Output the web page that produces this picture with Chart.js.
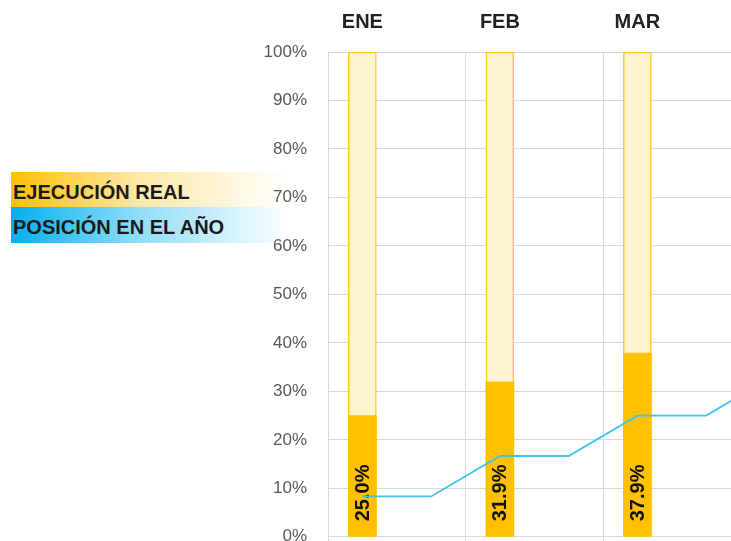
<!DOCTYPE html>
<html>
<head>
<meta charset="utf-8">
<script src="https://cdn.jsdelivr.net/npm/chart.js@4/dist/chart.umd.min.js"></script>
<style>
  html, body { margin: 0; padding: 0; background: #fff; overflow: hidden; width: 731px; height: 541px; }
  #wrap { position: absolute; left: 0; top: 0; width: 731px; height: 541px; overflow: hidden; }
  .band { position: absolute; left: 11px; width: 280px; font-family: "Liberation Sans", Arial, sans-serif; font-weight: bold; font-size: 20px; color: #1a1a1a; box-sizing: border-box; padding-left: 2px; white-space: nowrap; }
  #b1 { top: 172px; height: 35px; line-height: 35px; background: linear-gradient(to right, #FFC000 0%, #FFE7A6 45%, #FFFFFF 100%); }
  #b2 { top: 207px; height: 36px; line-height: 36px; background: linear-gradient(to right, #00B0F0 0%, #8FDDF8 45%, #FFFFFF 100%); }
  #b1 span { position: relative; top: 3px; }
  #b2 span { position: relative; top: 2px; }
  canvas { position: absolute; left: 0; top: 0; }
</style>
</head>
<body>
<div id="wrap">
  <div class="band" id="b1"><span>EJECUCIÓN REAL</span></div>
  <div class="band" id="b2"><span>POSICIÓN EN EL AÑO</span></div>
  <canvas id="c" width="900" height="568"></canvas>
</div>
<script>
// ---- data ----
const months = ['ENE', 'FEB', 'MAR', 'ABR'];
const realExec = [25.0, 31.9, 37.9, null];       // EJECUCIÓN REAL (%)
const fullBar = [100, 100, 100, null];            // 100% background bar
const yearPosition = [8.33, 8.33, 16.67, 16.67, 25.0, 25.0, 33.33, null]; // POSICIÓN EN EL AÑO, half-month slots
const yTicks = [0, 10, 20, 30, 40, 50, 60, 70, 80, 90, 100];

// each month occupies two half-slots; the bar sits in the first one
const slotLabels = months.flatMap(m => [m, '']);
const realSlots = realExec.flatMap(v => [v, null]);
const fullSlots = fullBar.flatMap(v => [v, null]);

const gridCol = '#D9D9D9';
const boundaryColor = ctx => (ctx.index % 2 === 0 ? gridCol : 'rgba(0,0,0,0)');

const labelPlugin = {
  id: 'barLabels',
  afterDatasetDraw(chart, args) {
    if (args.index !== 1) return;
    const c = chart.ctx;
    args.meta.data.forEach((bar, i) => {
      const v = realSlots[i];
      if (v == null) return;
      c.save();
      c.translate(bar.x, bar.base - 15);
      c.rotate(-Math.PI / 2);
      c.font = 'bold 20px "Liberation Sans", Arial, sans-serif';
      c.fillStyle = '#111';
      c.textAlign = 'left';
      c.textBaseline = 'middle';
      c.fillText(v.toFixed(1) + '%', 0, 1);
      c.restore();
    });
  }
};

new Chart(document.getElementById('c'), {
  type: 'bar',
  data: {
    labels: slotLabels,
    datasets: [
      {
        type: 'line',
        label: 'POSICIÓN EN EL AÑO',
        data: yearPosition,
        borderColor: '#3EC3F2',
        borderWidth: 1.8,
        pointRadius: 0,
        tension: 0,
        fill: false,
        xAxisID: 'x',
        order: 0
      },
      {
        label: 'EJECUCIÓN REAL',
        data: realSlots,
        backgroundColor: '#FFC000',
        borderWidth: 0,
        barThickness: 28,
        grouped: false,
        xAxisID: 'x',
        order: 1
      },
      {
        label: 'TOTAL',
        data: fullSlots,
        backgroundColor: '#FFF3D1',
        borderColor: '#FFC91A',
        borderWidth: 1.5,
        borderSkipped: false,
        barThickness: 28,
        grouped: false,
        xAxisID: 'x',
        order: 2
      }
    ]
  },
  options: {
    responsive: false,
    animation: false,
    devicePixelRatio: 1,
    layout: { padding: { left: 0, right: 22, top: 0, bottom: 0 } },
    plugins: { legend: { display: false }, tooltip: { enabled: false } },
    scales: {
      x: {
        type: 'category',
        position: 'top',
        offset: true,
        grid: { offset: true, color: boundaryColor, drawTicks: false, lineWidth: 1 },
        border: { color: gridCol },
        ticks: {
          autoSkip: false, maxRotation: 0, minRotation: 0, padding: 18,
          color: '#222',
          font: { family: '"Liberation Sans", Arial, sans-serif', size: 20, weight: 'bold' }
        },
        afterFit: s => { s.height = 52; }
      },
      xb: {
        type: 'category',
        position: 'bottom',
        labels: slotLabels,
        offset: true,
        grid: { offset: true, color: boundaryColor, drawOnChartArea: false, drawTicks: true, tickLength: 10 },
        border: { color: gridCol },
        ticks: { display: false },
        afterFit: s => { s.height = 17; }
      },
      y: {
        min: 0, max: 100,
        afterBuildTicks: s => { s.ticks = yTicks.map(v => ({ value: v })); },
        grid: { color: gridCol, drawTicks: false },
        border: { color: gridCol },
        ticks: {
          padding: 21,
          color: '#595959',
          font: { family: '"Liberation Sans", Arial, sans-serif', size: 17 },
          callback: v => v + '%'
        },
        afterFit: s => { s.width = 328; }
      }
    }
  },
  plugins: [labelPlugin]
});
</script>
</body>
</html>
